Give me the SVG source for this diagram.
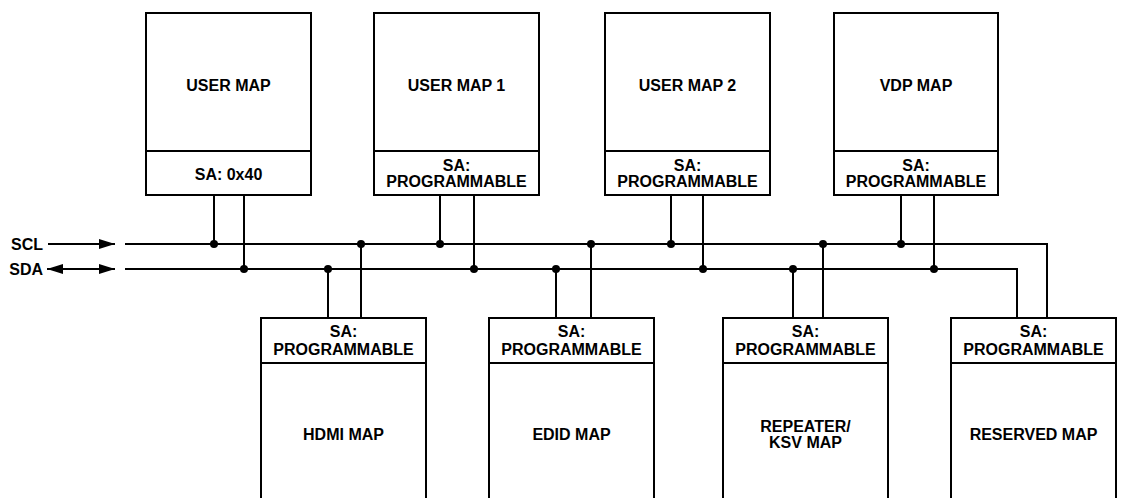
<svg xmlns="http://www.w3.org/2000/svg" width="1123" height="498" viewBox="0 0 1123 498">
<defs>
<style>
.box{fill:#fff;stroke:#000;stroke-width:2}
.ln{fill:none;stroke:#000;stroke-width:2}
.t{font-family:"Liberation Sans",Arial,sans-serif;font-weight:bold;font-size:16px;text-anchor:middle;fill:#000}
.lbl{font-family:"Liberation Sans",Arial,sans-serif;font-weight:bold;font-size:16px;text-anchor:end;fill:#000}
.dot{fill:#000}
</style>
<marker id="ah" viewBox="0 0 16 10" refX="16" refY="5" markerWidth="16" markerHeight="10" markerUnits="userSpaceOnUse" orient="auto-start-reverse">
<path d="M0,0 L16,5 L0,10 Z" fill="#000"/>
</marker>
</defs>
<rect width="1123" height="498" fill="#fff"/>

<g id="connectors">
<text class="lbl" x="43" y="250">SCL</text>
<text class="lbl" x="43" y="275">SDA</text>
<line class="ln" x1="48" y1="244" x2="115" y2="244" marker-end="url(#ah)"/>
<line class="ln" x1="47" y1="269" x2="115" y2="269" marker-start="url(#ah)" marker-end="url(#ah)"/>
<polyline class="ln" points="125,244 1047,244 1047,319"/>
<polyline class="ln" points="125,269 1017,269 1017,319"/>
<line class="ln" x1="214" y1="195" x2="214" y2="244"/>
<line class="ln" x1="244" y1="195" x2="244" y2="269"/>
<line class="ln" x1="440" y1="195" x2="440" y2="244"/>
<line class="ln" x1="474" y1="195" x2="474" y2="269"/>
<line class="ln" x1="671" y1="195" x2="671" y2="244"/>
<line class="ln" x1="703" y1="195" x2="703" y2="269"/>
<line class="ln" x1="901" y1="195" x2="901" y2="244"/>
<line class="ln" x1="934" y1="195" x2="934" y2="269"/>
<line class="ln" x1="328" y1="318" x2="328" y2="269"/>
<line class="ln" x1="361" y1="318" x2="361" y2="244"/>
<line class="ln" x1="556" y1="318" x2="556" y2="269"/>
<line class="ln" x1="591" y1="318" x2="591" y2="244"/>
<line class="ln" x1="793" y1="318" x2="793" y2="269"/>
<line class="ln" x1="823" y1="318" x2="823" y2="244"/>
<circle class="dot" cx="214" cy="244" r="4"/>
<circle class="dot" cx="361" cy="244" r="4"/>
<circle class="dot" cx="440" cy="244" r="4"/>
<circle class="dot" cx="591" cy="244" r="4"/>
<circle class="dot" cx="671" cy="244" r="4"/>
<circle class="dot" cx="823" cy="244" r="4"/>
<circle class="dot" cx="901" cy="244" r="4"/>
<circle class="dot" cx="244" cy="269" r="4"/>
<circle class="dot" cx="328" cy="269" r="4"/>
<circle class="dot" cx="474" cy="269" r="4"/>
<circle class="dot" cx="556" cy="269" r="4"/>
<circle class="dot" cx="703" cy="269" r="4"/>
<circle class="dot" cx="793" cy="269" r="4"/>
<circle class="dot" cx="934" cy="269" r="4"/>
</g>

<g id="user-map">
<rect class="box" x="146" y="13" width="165" height="182"/>
<line class="ln" x1="146" y1="151" x2="311" y2="151"/>
<text class="t" x="228.5" y="91">USER MAP</text>
<text class="t" x="228.5" y="179.5">SA: 0x40</text>
</g>
<g id="user-map-1">
<rect class="box" x="374" y="13" width="165" height="182"/>
<line class="ln" x1="374" y1="151" x2="539" y2="151"/>
<text class="t" x="456.5" y="91">USER MAP 1</text>
<text class="t" x="456.5" y="171">SA:</text>
<text class="t" x="456.5" y="187">PROGRAMMABLE</text>
</g>
<g id="user-map-2">
<rect class="box" x="605" y="13" width="165" height="182"/>
<line class="ln" x1="605" y1="151" x2="770" y2="151"/>
<text class="t" x="687.5" y="91">USER MAP 2</text>
<text class="t" x="687.5" y="171">SA:</text>
<text class="t" x="687.5" y="187">PROGRAMMABLE</text>
</g>
<g id="vdp-map">
<rect class="box" x="834" y="13" width="164" height="182"/>
<line class="ln" x1="834" y1="151" x2="998" y2="151"/>
<text class="t" x="916" y="91">VDP MAP</text>
<text class="t" x="916" y="171">SA:</text>
<text class="t" x="916" y="187">PROGRAMMABLE</text>
</g>

<g id="hdmi-map">
<path class="box" d="M261,500 L261,318 L426,318 L426,500"/>
<line class="ln" x1="261" y1="363" x2="426" y2="363"/>
<text class="t" x="343.5" y="337">SA:</text>
<text class="t" x="343.5" y="355">PROGRAMMABLE</text>
<text class="t" x="343.5" y="440">HDMI MAP</text>
</g>
<g id="edid-map">
<path class="box" d="M489,500 L489,318 L654,318 L654,500"/>
<line class="ln" x1="489" y1="363" x2="654" y2="363"/>
<text class="t" x="571.5" y="337">SA:</text>
<text class="t" x="571.5" y="355">PROGRAMMABLE</text>
<text class="t" x="571.5" y="440">EDID MAP</text>
</g>
<g id="repeater-ksv-map">
<path class="box" d="M723,500 L723,318 L888,318 L888,500"/>
<line class="ln" x1="723" y1="363" x2="888" y2="363"/>
<text class="t" x="805.5" y="337">SA:</text>
<text class="t" x="805.5" y="355">PROGRAMMABLE</text>
<text class="t" x="805.5" y="432">REPEATER/</text>
<text class="t" x="805.5" y="448">KSV MAP</text>
</g>
<g id="reserved-map">
<path class="box" d="M951,500 L951,318 L1116,318 L1116,500"/>
<line class="ln" x1="951" y1="363" x2="1116" y2="363"/>
<text class="t" x="1033.5" y="337">SA:</text>
<text class="t" x="1033.5" y="355">PROGRAMMABLE</text>
<text class="t" x="1033.5" y="440">RESERVED MAP</text>
</g>
</svg>
